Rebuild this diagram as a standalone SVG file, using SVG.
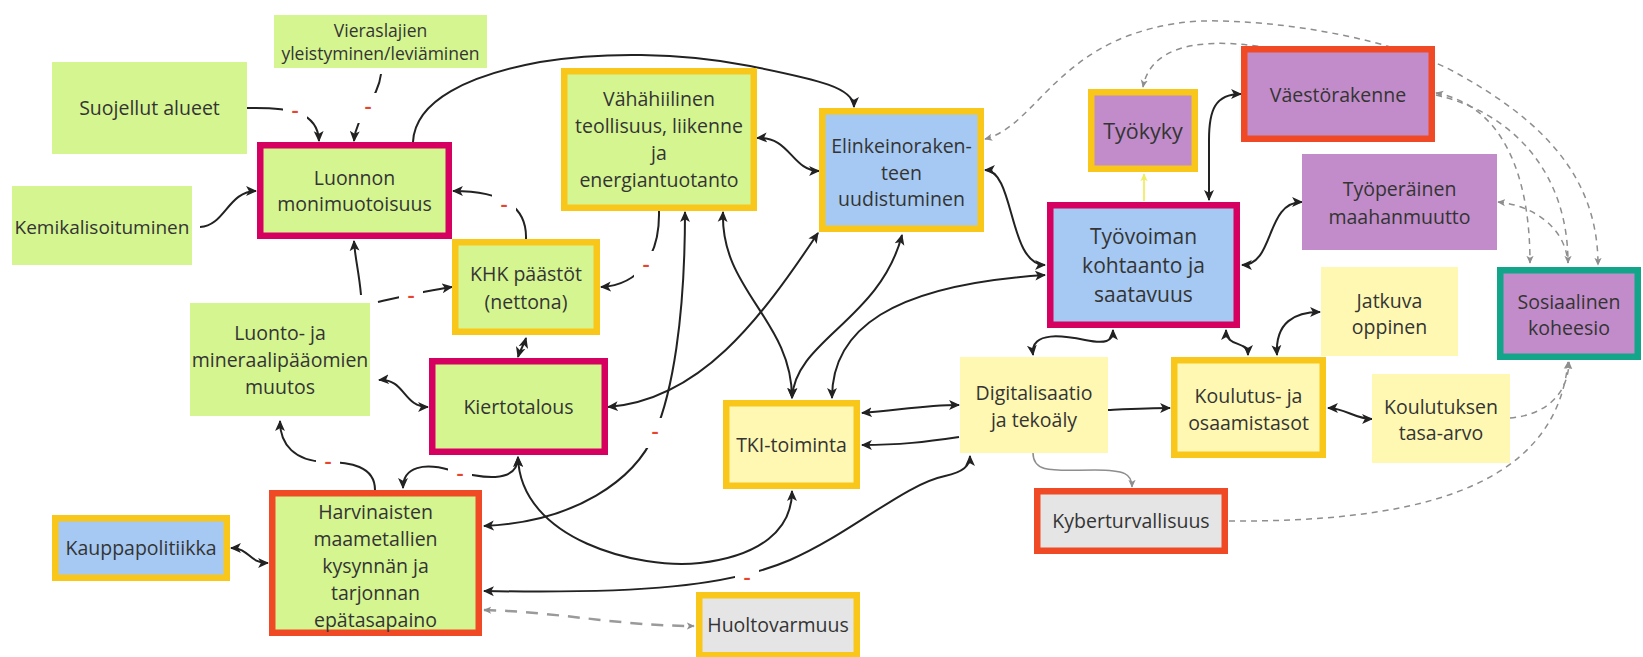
<svg xmlns="http://www.w3.org/2000/svg" width="1643" height="657" viewBox="0 0 1643 657">
<style>
.t{font-family:"Open Sans","Liberation Sans",sans-serif;fill:#343434;text-anchor:middle;font-size:19.5px}
.gr{fill:#d5f591}.bl{fill:#a5c9f2}.pu{fill:#c18cc9}.py{fill:#fef8b2}.gy{fill:#e5e5e5}
.bm{stroke:#d5005f;stroke-width:6.5}.by{stroke:#f8c71a;stroke-width:6.5}.br{stroke:#ef4a25;stroke-width:6.5}.bt{stroke:#12a58a;stroke-width:6.5}
.c{fill:none;stroke:#222;stroke-width:2}
.g{fill:none;stroke:#8e8e8e;stroke-width:1.5;stroke-dasharray:6 5}
.gs{fill:none;stroke:#8e8e8e;stroke-width:1.5}
.gd{fill:none;stroke:#9a9a9a;stroke-width:2.5;stroke-dasharray:12 9}
.y{fill:none;stroke:#f2ec62;stroke-width:1.8}
.lb{fill:#fff}
.lt{font-family:"Open Sans","Liberation Sans",sans-serif;font-size:22px;font-weight:600;fill:#e8442b;text-anchor:middle}
</style>
<defs>
<marker id="ah" viewBox="0 0 10 10" refX="9" refY="5" markerWidth="11" markerHeight="11" markerUnits="userSpaceOnUse" orient="auto-start-reverse"><path d="M0,0.5 L10,5 L0,9.5 L2.5,5 z" fill="#222"/></marker>
<marker id="ahg" viewBox="0 0 10 10" refX="9" refY="5" markerWidth="8" markerHeight="8" markerUnits="userSpaceOnUse" orient="auto-start-reverse"><path d="M0,0.5 L10,5 L0,9.5 L2.5,5 z" fill="#8e8e8e"/></marker>
<marker id="ahy" viewBox="0 0 10 10" refX="9" refY="5" markerWidth="8" markerHeight="8" markerUnits="userSpaceOnUse" orient="auto-start-reverse"><path d="M0,0.5 L10,5 L0,9.5 L2.5,5 z" fill="#f2ec62"/></marker>
</defs>
<rect width="1643" height="657" fill="#fff"/>
<g id="connectors">
<path class="c" marker-end="url(#ah)" d="M247,108 C290,107 318,112 319,141"/>
<path class="c" marker-end="url(#ah)" d="M381,74 C378,100 356,115 354,141"/>
<path class="c" marker-end="url(#ah)" d="M200,227 C225,226 228,191 256,191"/>
<path class="c" marker-end="url(#ah)" d="M413,142 C415,100 470,75 540,62 C600,52 680,52 750,66 C820,80 854,88 854,107"/>
<path class="c" marker-end="url(#ah)" d="M526,239 C527,208 505,191 453,191"/>
<path class="c" marker-end="url(#ah)" d="M361,295 C359,272 355,258 354,241"/>
<path class="c" marker-end="url(#ah)" d="M378,302 C400,297 430,290 452,287"/>
<path class="c" marker-start="url(#ah)" marker-end="url(#ah)" d="M757,138 C790,136 792,171 819,171"/>
<path class="c" marker-end="url(#ah)" d="M659,211 C660,255 640,285 601,287"/>
<path class="c" marker-start="url(#ah)" marker-end="url(#ah)" d="M484,526 C575,522 635,480 655,433 C672,393 685,320 685,212"/>
<path class="c" marker-start="url(#ah)" marker-end="url(#ah)" d="M723,212 C720,290 792,320 792,398"/>
<path class="c" marker-start="url(#ah)" marker-end="url(#ah)" d="M608,407 C700,400 760,320 818,233"/>
<path class="c" marker-start="url(#ah)" marker-end="url(#ah)" d="M792,398 C795,340 880,320 902,235"/>
<path class="c" marker-start="url(#ah)" marker-end="url(#ah)" d="M832,398 C832,330 890,285 1045,275"/>
<path class="c" marker-start="url(#ah)" marker-end="url(#ah)" d="M985,170 C1015,170 1008,265 1045,265"/>
<path class="c" marker-start="url(#ah)" marker-end="url(#ah)" d="M1033,355 C1030,330 1065,336 1085,340 C1105,344 1113,342 1113,330"/>
<path class="c" marker-start="url(#ah)" marker-end="url(#ah)" d="M1226,330 C1226,348 1248,340 1248,355"/>
<path class="c" marker-start="url(#ah)" marker-end="url(#ah)" d="M1277,355 C1275,322 1295,312 1320,312"/>
<path class="c" marker-start="url(#ah)" marker-end="url(#ah)" d="M862,413 C900,410 925,405 959,405"/>
<path class="c" marker-end="url(#ah)" d="M959,437 C925,442 900,445 862,445"/>
<path class="c" marker-end="url(#ah)" d="M1108,410 C1130,409 1150,408 1170,408"/>
<path class="gs" marker-end="url(#ahg)" d="M1033,453 C1033,474 1055,470 1095,470 C1125,470 1132,474 1132,487"/>
<path class="c" marker-start="url(#ah)" marker-end="url(#ah)" d="M484,591 C640,594 730,586 790,560 C850,534 905,484 945,476 C963,472 970,466 970,456"/>
<path class="c" marker-start="url(#ah)" marker-end="url(#ah)" d="M518,457 C520,540 640,570 700,563 C760,556 792,530 792,491"/>
<path class="c" marker-start="url(#ah)" marker-end="url(#ah)" d="M403,488 C403,466 425,463 450,470 C480,478 518,485 518,457"/>
<path class="c" marker-end="url(#ah)" d="M375,490 C375,466 350,462 325,462 C295,461 280,445 280,421"/>
<path class="c" marker-start="url(#ah)" marker-end="url(#ah)" d="M379,380 C405,378 403,407 428,407"/>
<path class="c" marker-start="url(#ah)" marker-end="url(#ah)" d="M526,338 C524,345 520,350 518,357"/>
<path class="c" marker-start="url(#ah)" marker-end="url(#ah)" d="M231,548 C250,548 248,563 268,563"/>
<path class="gd" marker-start="url(#ahg)" marker-end="url(#ahg)" d="M484,610 C560,612 620,626 694,626"/>
<path class="c" marker-start="url(#ah)" marker-end="url(#ah)" d="M1328,408 C1345,408 1355,419 1372,419"/>
<path class="c" marker-start="url(#ah)" marker-end="url(#ah)" d="M1242,265 C1275,265 1265,202 1302,202"/>
<path class="c" marker-start="url(#ah)" marker-end="url(#ah)" d="M1241,94 C1215,94 1209,110 1209,140 L1209,200"/>
<path class="y" marker-end="url(#ahy)" d="M1144,201 L1144,174"/>
<path class="g" marker-start="url(#ahg)" marker-end="url(#ahg)" d="M985,139 C1040,125 1060,30 1200,21 C1280,19 1400,40 1460,75 C1540,120 1598,175 1598,265"/>
<path class="g" marker-end="url(#ahg)" d="M1280,50 C1220,38 1152,38 1143,87"/>
<path class="g" marker-start="url(#ahg)" marker-end="url(#ahg)" d="M1436,93 C1500,105 1530,170 1530,263"/>
<path class="g" marker-end="url(#ahg)" d="M1436,95 C1510,112 1568,170 1568,263"/>
<path class="g" marker-start="url(#ahg)" d="M1498,202 C1530,205 1565,225 1568,263"/>
<path class="g" marker-end="url(#ahg)" d="M1510,418 C1545,415 1568,395 1569,362"/>
<path class="g" marker-end="url(#ahg)" d="M1229,521 C1400,522 1555,495 1568,362"/>
</g>
<g id="labels">
<rect class="lb" x="283" y="97" width="24" height="30"/><text class="lt" x="295" y="118">-</text>
<rect class="lb" x="356" y="93" width="24" height="30"/><text class="lt" x="368" y="114">-</text>
<rect class="lb" x="492" y="191" width="24" height="30"/><text class="lt" x="504" y="212">-</text>
<rect class="lb" x="399" y="282" width="24" height="30"/><text class="lt" x="411" y="303">-</text>
<rect class="lb" x="634" y="251" width="24" height="30"/><text class="lt" x="646" y="272">-</text>
<rect class="lb" x="643" y="418" width="24" height="30"/><text class="lt" x="655" y="439">-</text>
<rect class="lb" x="448" y="460" width="24" height="30"/><text class="lt" x="460" y="481">-</text>
<rect class="lb" x="316" y="448" width="24" height="30"/><text class="lt" x="328" y="469">-</text>
<rect class="lb" x="735" y="564" width="24" height="30"/><text class="lt" x="747" y="585">-</text>
</g>
<g id="n-vieraslajien"><rect class="gr" x="274" y="15" width="213" height="53"/><text class="t" style="font-size:17.5px" x="380.5" y="37">Vieraslajien</text><text class="t" style="font-size:17.5px" x="380.5" y="60">yleistyminen/leviäminen</text></g>
<g id="n-suojellut"><rect class="gr" x="52" y="62" width="195" height="92"/><text class="t" x="149.5" y="114.5">Suojellut alueet</text></g>
<g id="n-kemikalisoituminen"><rect class="gr" x="12" y="186" width="180" height="79"/><text class="t" style="font-size:19px" x="102" y="233.5">Kemikalisoituminen</text></g>
<g id="n-luonnon"><rect class="gr bm" x="260.25" y="145.25" width="188.5" height="90.5"/><text class="t" x="354.5" y="184.5">Luonnon</text><text class="t" x="354.5" y="210.5">monimuotoisuus</text></g>
<g id="n-khk"><rect class="gr by" x="455.25" y="242.25" width="141.5" height="89.5"/><text class="t" x="526" y="280.5">KHK päästöt</text><text class="t" x="526" y="308.5">(nettona)</text></g>
<g id="n-luonto"><rect class="gr" x="190" y="303" width="180" height="113"/><text class="t" x="280" y="340">Luonto- ja</text><text class="t" x="280" y="367">mineraalipääomien</text><text class="t" x="280" y="394">muutos</text></g>
<g id="n-kiertotalous"><rect class="gr bm" x="432.25" y="361.25" width="172.5" height="90.5"/><text class="t" x="518.5" y="413.5">Kiertotalous</text></g>
<g id="n-vahahiilinen"><rect class="gr by" x="564.25" y="71.25" width="189.5" height="136.5"/><text class="t" x="659" y="105.5">Vähähiilinen</text><text class="t" x="659" y="132.5">teollisuus, liikenne</text><text class="t" x="659" y="159.5">ja</text><text class="t" x="659" y="186.5">energiantuotanto</text></g>
<g id="n-elinkeino"><rect class="bl by" x="822.25" y="111.25" width="158.5" height="117.5"/><text class="t" x="901.5" y="153">Elinkeinoraken-</text><text class="t" x="901.5" y="179.5">teen</text><text class="t" x="901.5" y="206">uudistuminen</text></g>
<g id="n-tki"><rect class="py by" x="726.25" y="403.25" width="130.5" height="82.5"/><text class="t" x="791.5" y="451.5">TKI-toiminta</text></g>
<g id="n-digi"><rect class="py" x="960" y="357" width="148" height="96"/><text class="t" x="1034" y="399.5">Digitalisaatio</text><text class="t" x="1034" y="426.5">ja tekoäly</text></g>
<g id="n-tyovoiman"><rect class="bl bm" x="1050.25" y="205.25" width="186.5" height="119.5"/><text class="t" style="font-size:21px" x="1143.5" y="244">Työvoiman</text><text class="t" style="font-size:21px" x="1143.5" y="273">kohtaanto ja</text><text class="t" style="font-size:21px" x="1143.5" y="302">saatavuus</text></g>
<g id="n-tyokyky"><rect class="pu by" x="1091.25" y="92.25" width="103.5" height="76.5"/><text class="t" style="font-size:21.5px" x="1143" y="139">Työkyky</text></g>
<g id="n-vaestorakenne"><rect class="pu br" x="1244.25" y="49.25" width="187.5" height="89.5"/><text class="t" x="1338" y="101.5">Väestörakenne</text></g>
<g id="n-tyoperainen"><rect class="pu" x="1302" y="154" width="195" height="96"/><text class="t" x="1399.5" y="195.5">Työperäinen</text><text class="t" x="1399.5" y="223.5">maahanmuutto</text></g>
<g id="n-jatkuva"><rect class="py" x="1321" y="267" width="137" height="89"/><text class="t" x="1389.5" y="308">Jatkuva</text><text class="t" x="1389.5" y="334">oppinen</text></g>
<g id="n-sosiaalinen"><rect class="pu bt" x="1500.25" y="270.25" width="137.5" height="86.5"/><text class="t" x="1569" y="308.5">Sosiaalinen</text><text class="t" x="1569" y="335">koheesio</text></g>
<g id="n-koulutus"><rect class="py by" x="1174.25" y="360.25" width="148.5" height="94.5"/><text class="t" x="1248.5" y="402.5">Koulutus- ja</text><text class="t" x="1248.5" y="429.5">osaamistasot</text></g>
<g id="n-koulutuksen"><rect class="py" x="1372" y="374" width="138" height="89"/><text class="t" x="1441" y="413.5">Koulutuksen</text><text class="t" x="1441" y="439.5">tasa-arvo</text></g>
<g id="n-kyber"><rect class="gy br" x="1037.25" y="491.25" width="187.5" height="59.5"/><text class="t" x="1131" y="527.5">Kyberturvallisuus</text></g>
<g id="n-harvinaisten"><rect class="gr br" x="272.25" y="493.25" width="206.5" height="139.5"/><text class="t" x="375.5" y="518.5">Harvinaisten</text><text class="t" x="375.5" y="545.5">maametallien</text><text class="t" x="375.5" y="572.5">kysynnän ja</text><text class="t" x="375.5" y="599.5">tarjonnan</text><text class="t" x="375.5" y="626.5">epätasapaino</text></g>
<g id="n-kauppapolitiikka"><rect class="bl by" x="55.25" y="518.25" width="171.5" height="59.5"/><text class="t" x="141" y="554.5">Kauppapolitiikka</text></g>
<g id="n-huoltovarmuus"><rect class="gy by" x="699.25" y="595.25" width="157.5" height="60"/><text class="t" x="778" y="631.5">Huoltovarmuus</text></g>
</svg>
